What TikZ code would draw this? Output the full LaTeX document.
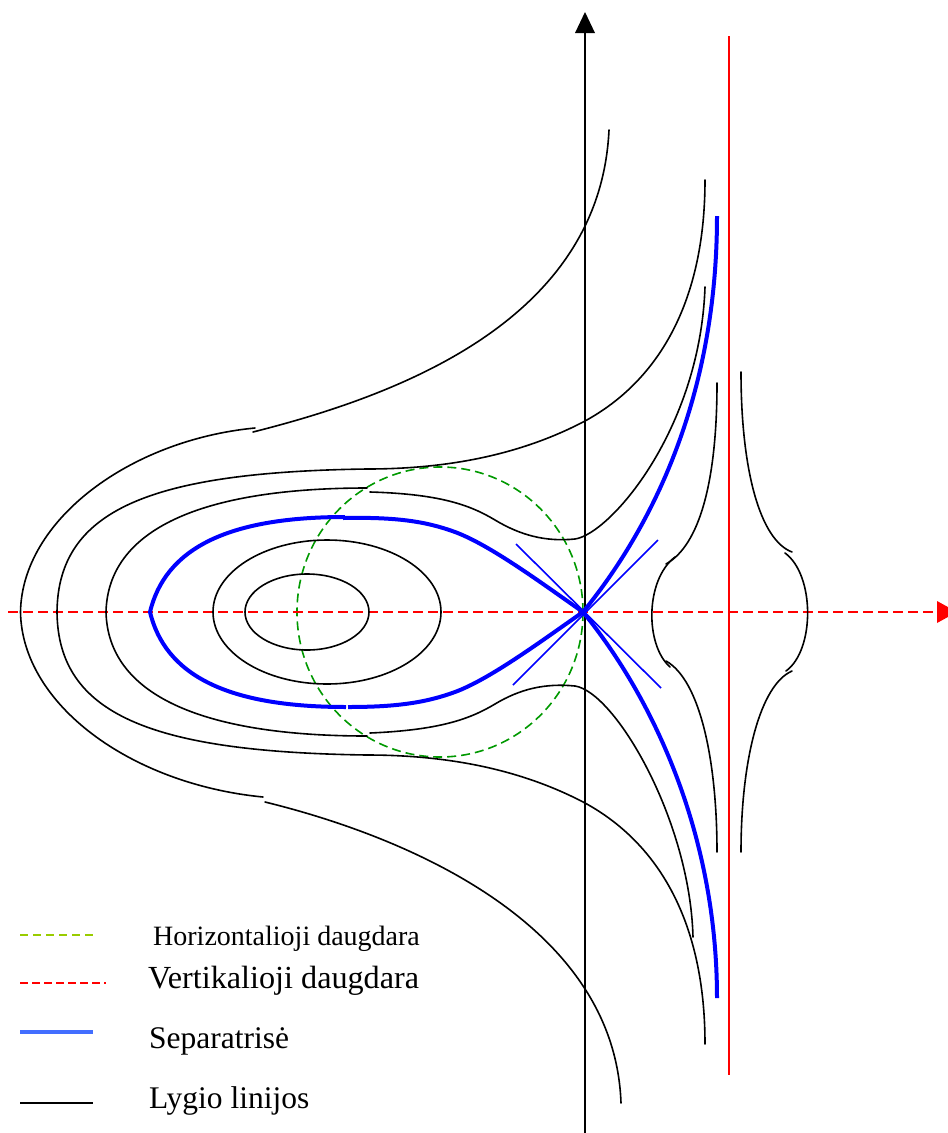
\documentclass[tikz,border=0pt]{standalone}
\usepackage{fontspec}
\setmainfont{Liberation Serif}
\begin{document}
\begin{tikzpicture}[x=1pt,y=-1pt,
  lvl/.style={line width=1.6pt, black, line cap=round},
  sep/.style={line width=4pt, blue},
  tang/.style={line width=1.6pt, blue},
  hman/.style={line width=1.6pt, color=hgreen, dash pattern=on 9pt off 5pt},
  vman/.style={line width=2pt, red, dash pattern=on 10pt off 5pt},
  lab/.style={anchor=base west, inner sep=0pt, font=\fontsize{31.5}{36}\selectfont},
  labs/.style={anchor=base west, inner sep=0pt, font=\fontsize{28}{32}\selectfont}]
\definecolor{hgreen}{RGB}{0,153,0}
\definecolor{lgreen}{RGB}{153,204,0}
\definecolor{lblue}{RGB}{66,110,255}
\useasboundingbox (0,0) rectangle (948,1133);
\fill[white] (0,0) rectangle (948,1133);

% horizontal manifold (green dashed circle)
\draw[hman] (440,612) ellipse [x radius=143, y radius=145];

% axes
\draw[vman] (8,612) -- (937,612);
\fill[red] (937,601) -- (957,612) -- (937,623) -- cycle;
\draw[line width=2pt] (585,1133) -- (585,32);
\fill[black] (575,33) -- (585,12) -- (595,33) -- cycle;
% vertical manifold
\draw[line width=2.5pt, red] (729,36) -- (729,1075);

% inner closed level curves
\draw[lvl] (307,612) ellipse [x radius=62, y radius=38];
\draw[lvl] (327,612) ellipse [x radius=114, y radius=72];

% curve C
\draw[lvl] (367,488) .. controls (200,488) and (108,530) .. (106,612)
                     .. controls (108,694) and (200,736) .. (367,736);
\draw[lvl] (370,492) .. controls (440,494) and (470,505) .. (495,520)
                     .. controls (520,535) and (545,542) .. (575,539)
                     .. controls (610,534) and (700,430) .. (705,287);
\draw[lvl] (370,733) .. controls (440,730) and (470,719) .. (495,704)
                     .. controls (520,689) and (545,683) .. (575,686)
                     .. controls (615,692) and (690,820) .. (693,937);

% curve B
\draw[lvl] (705,180) .. controls (705,300) and (660,380) .. (585,421)
                     .. controls (530,450) and (460,469) .. (367,469)
                     .. controls (150,472) and (58,510) .. (57,612)
                     .. controls (58,714) and (150,752) .. (367,755)
                     .. controls (460,755) and (530,774) .. (585,803)
                     .. controls (660,844) and (705,924) .. (705,1044);

% curve A
\draw[lvl] (255,428) .. controls (130,440) and (22,520) .. (20.5,612)
                     .. controls (22,704) and (130,784) .. (263,797);
\draw[lvl] (253,432) .. controls (400,395) and (600,320) .. (609,130);
\draw[lvl] (265,802) .. controls (420,840) and (615,930) .. (621,1103);

% right side curves (left of red line)
\draw[lvl] (717,383) .. controls (717,480) and (700,545) .. (666,564);
\draw[lvl] (675,557) .. controls (645,580) and (645,645) .. (670,667);
\draw[lvl] (666,661) .. controls (700,680) and (717,760) .. (717,852);
% right of red line
\draw[lvl] (741,372) .. controls (741,470) and (760,540) .. (792,552);
\draw[lvl] (785,553) .. controls (815,575) and (815,650) .. (786,671);
\draw[lvl] (792,671) .. controls (760,685) and (741,760) .. (741,852);

% separatrix
\draw[sep] (717,216) .. controls (717,400) and (650,530) .. (583,612)
                     .. controls (540,642) and (490,679) .. (455,692)
                     .. controls (425,703) and (395,707) .. (348,707);
\draw[sep] (346,707) .. controls (225,707) and (165,674) .. (150,612)
                     .. controls (165,550) and (225,517) .. (345,517);
\draw[sep] (343,518) .. controls (395,517) and (425,521) .. (455,532)
                     .. controls (490,545) and (540,582) .. (583,612)
                     .. controls (650,694) and (717,830) .. (717,998);
% tangent lines at the saddle
\draw[tang] (516,544) -- (661,688);
\draw[tang] (658,540) -- (513,685);

% legend
\draw[line width=1.6pt, lgreen, dash pattern=on 8pt off 5pt] (20,935) -- (95,935);
\node[labs] (t1) at (153,945) {Horizontalioji daugdara};
\draw[line width=2pt, red, dash pattern=on 8pt off 4pt] (20,983) -- (106,983);
\node[lab, font=\fontsize{32.2}{36}\selectfont] (t2) at (148,988) {Vertikalioji daugdara};
\draw[line width=4pt, lblue] (20,1032) -- (93,1032);
\node[lab] (t3) at (149,1048) {Separatrisė};
\draw[line width=1.6pt, black] (20,1103) -- (93,1103);
\node[lab] (t4) at (149,1108) {Lygio linijos};
\end{tikzpicture}
\end{document}
